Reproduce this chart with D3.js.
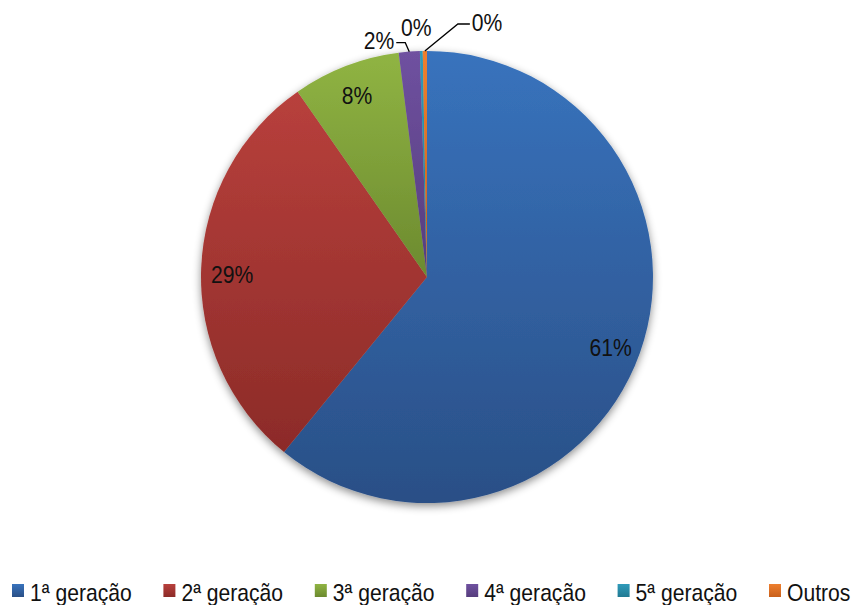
<!DOCTYPE html>
<html><head><meta charset="utf-8">
<script src="https://cdn.jsdelivr.net/npm/d3@7"></script>
<style>
html,body{margin:0;padding:0;background:#fff;}
svg{display:block;font-family:"Liberation Sans Narrow","Arial Narrow","Liberation Sans",sans-serif;}
</style></head>
<body>
<svg id="chart" width="856" height="605"></svg>
<script>
const categories = ["1ª geração","2ª geração","3ª geração","4ª geração","5ª geração","Outros"];
const values = [60.9, 29.4, 7.7, 1.5, 0.2, 0.3];
const labels = ["61%","29%","8%","2%","0%","0%"];
const colorsTop = ["#3873bd","#b8403c","#90b443","#6f51a0","#2f9bba","#ee7f2e"];
const colorsBottom = ["#2a4f86","#8c2b28","#6c8a2f","#563d7d","#217a93","#c9601b"];

const svg = d3.select("#chart");
const cx = 427, cy = 277, R = 226;
const SX = 0.88, FS = 24;
const defs = svg.append("defs");
const f = defs.append("filter").attr("id","sh").attr("x","-10%").attr("y","-10%").attr("width","120%").attr("height","125%");
f.append("feDropShadow").attr("dx",0).attr("dy",3).attr("stdDeviation",4).attr("flood-color","#000").attr("flood-opacity",0.45);

categories.forEach((c,i)=>{
  const g = defs.append("linearGradient").attr("id","g"+i).attr("x1",0).attr("y1",0).attr("x2",0).attr("y2",1);
  g.append("stop").attr("offset","0%").attr("stop-color",colorsTop[i]);
  g.append("stop").attr("offset","100%").attr("stop-color",colorsBottom[i]);
});

function addText(parent, x, y, str, anchor, dy){
  return parent.append("text").attr("transform",`translate(${x},${y}) scale(${SX},1)`)
    .attr("text-anchor",anchor).attr("dy",dy||0).attr("font-size",FS).attr("fill","#111").text(str);
}

const pie = d3.pie().sort(null).value(d=>d)(values);
const arc = d3.arc().innerRadius(0).outerRadius(R);
const g = svg.append("g").attr("transform",`translate(${cx},${cy})`);
g.append("g").attr("filter","url(#sh)").selectAll("path").data(pie).join("path")
  .attr("d",arc).attr("fill",(d,i)=>`url(#g${i})`);

const labelArc = d3.arc().innerRadius(195).outerRadius(195);
const edgeArc = d3.arc().innerRadius(R).outerRadius(R);
pie.forEach((d,i)=>{
  if (i<3){
    const [x,y] = labelArc.centroid(d);
    addText(g, x, y + (i<2 ? 5 : 0), labels[i], "middle", "0.36em");
  }
});
// outside labels with leader lines (offsets relative to slice edge point)
const outside = [
  {i:3, pts:[[0,0],[-4,-9],[-13,-9]], tx:-15, ty:-11, anchor:"end"},
  {i:4, pts:null, tx:-5, ty:-24, anchor:"middle"},
  {i:5, pts:[[0,0],[33,-27],[45,-27]], tx:47, ty:-29, anchor:"start"}
];
outside.forEach(o=>{
  const [x0,y0] = edgeArc.centroid(pie[o.i]);
  if (o.pts){
    g.append("path").attr("d", d3.line()(o.pts.map(p=>[x0+p[0],y0+p[1]])))
      .attr("fill","none").attr("stroke","#000").attr("stroke-width",1.3);
  }
  addText(g, x0+o.tx, y0+o.ty, labels[o.i], o.anchor, "0.36em");
});

// legend
const lx = d3.scalePoint().domain(categories).range([12,769]);
const leg = svg.append("g");
categories.forEach((c,i)=>{
  const x = lx(c);
  leg.append("rect").attr("x",x).attr("y",584).attr("width",12).attr("height",13).attr("fill",`url(#g${i})`);
  addText(leg, x+18, 601, c, "start");
});
</script>
</body></html>
